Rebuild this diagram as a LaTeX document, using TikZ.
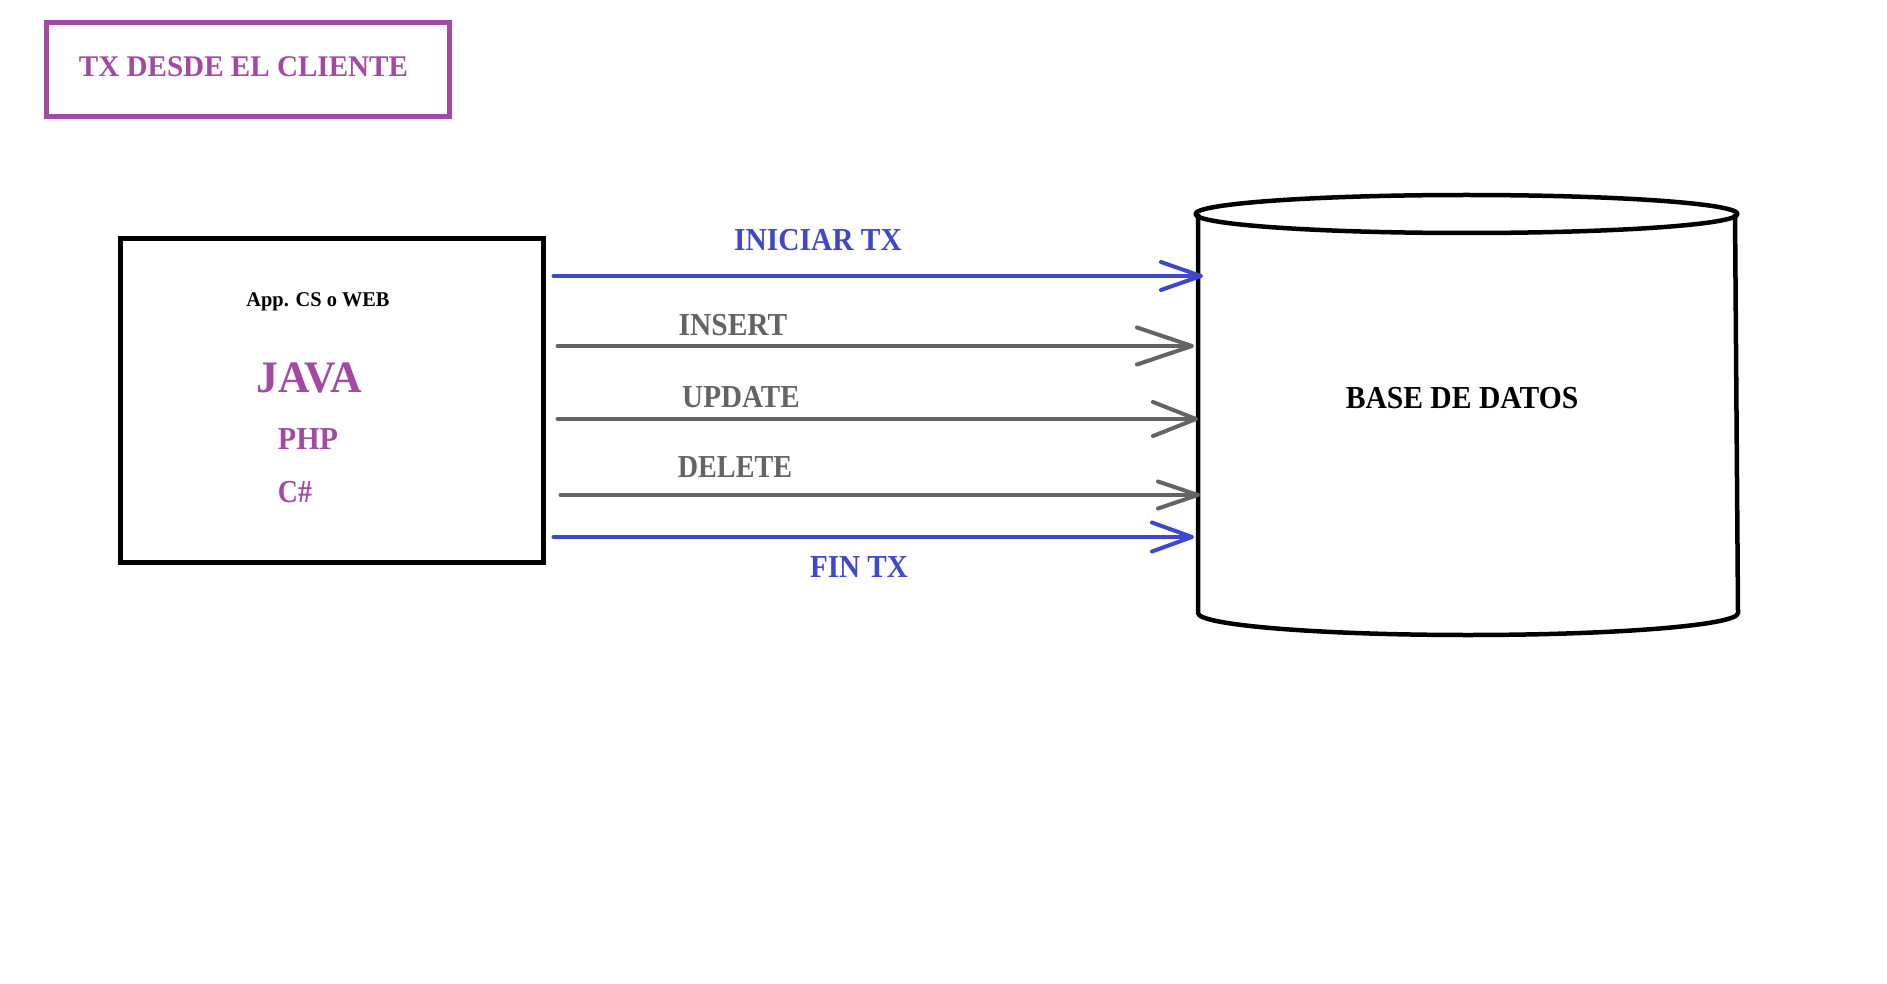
\documentclass[tikz,border=0pt]{standalone}
\usepackage{fontspec}
\setmainfont{Liberation Serif}
\usepackage{graphicx}
\usetikzlibrary{arrows.meta}
\definecolor{purpleC}{RGB}{163,73,164}
\definecolor{blueC}{RGB}{63,72,204}
\definecolor{grayC}{RGB}{100,100,100}
\newcommand\lbl[3]{{\fontsize{#1}{#1}\selectfont\bfseries\scalebox{#2}[1]{#3}}}
\tikzset{
  txt/.style={anchor=base, inner sep=0pt, outer sep=0pt},
  flow/.style={line width=4pt, line cap=round},
  blueflow/.style={flow, draw=blueC},
  grayflow/.style={flow, draw=grayC},
  cyl/.style={draw=black, line width=4.5pt, line join=round},
}
\begin{document}
\begin{tikzpicture}[x=1pt, y=-1pt]
\useasboundingbox[fill=white] (0,0) rectangle (1887,984);

% title
\node[draw=purpleC, line width=5pt, minimum width=403pt, minimum height=94pt, inner sep=0pt] (titlebox) at (247.5,69.5) {};
\node[txt, text=purpleC] (title) at (243.5,77) {\lbl{30}{0.97}{TX DESDE EL CLIENTE}};

% client box
\node[draw=black, line width=5pt, minimum width=423pt, minimum height=323pt, inner sep=0pt] (client) at (331.5,400.5) {};
\node[txt] (app) at (318,306) {\lbl{21}{0.97}{App. CS o WEB}};
\node[txt, text=purpleC] (java) at (309.5,392) {\lbl{45}{0.97}{JAVA}};
\node[txt, text=purpleC] (php) at (308,449) {\lbl{32}{0.94}{PHP}};
\node[txt, text=purpleC] (cs) at (295,502) {\lbl{32}{0.87}{C\#}};

% database
\node[minimum width=537pt, minimum height=399pt, inner sep=0pt, outer sep=0pt] (db) at (1466.5,413.5) {};
\draw[cyl] (db.north) ellipse [x radius=271pt, y radius=19pt];
\draw[cyl] (db.north west) -- (db.south west)
  arc[start angle=180, end angle=360, x radius=270pt, y radius=22pt] -- (db.north east);
\node[txt] (dbl) at (1462,408) {\lbl{32}{0.925}{BASE DE DATOS}};

% arrows
\draw[blueflow, -{Straight Barb[length=40pt,width=28pt,round]}, shorten <=8pt, shorten >=-5pt]
  (client.east |- 0,276) -- (db.west |- 0,276);
\draw[grayflow, -{Straight Barb[length=55pt,width=37pt,round]}, shorten <=12pt, shorten >=4pt]
  (client.east |- 0,346) -- (db.west |- 0,346);
\draw[grayflow, -{Straight Barb[length=43pt,width=34pt,round]}, shorten <=12pt]
  (client.east |- 0,419) -- (db.west |- 0,419);
\draw[grayflow, -{Straight Barb[length=40pt,width=27pt,round]}, shorten <=15pt, shorten >=-2pt]
  (client.east |- 0,495) -- (db.west |- 0,495);
\draw[blueflow, -{Straight Barb[length=40pt,width=29pt,round]}, shorten <=8pt, shorten >=4pt]
  (client.east |- 0,537) -- (db.west |- 0,537);

% arrow labels
\node[txt, text=blueC] (l1) at (818,251) {\lbl{32}{0.92}{INICIAR TX}};
\node[txt, text=grayC] (l2) at (733,335) {\lbl{32}{0.92}{INSERT}};
\node[txt, text=grayC] (l3) at (741,407) {\lbl{32}{0.91}{UPDATE}};
\node[txt, text=grayC] (l4) at (735,477) {\lbl{32}{0.88}{DELETE}};
\node[txt, text=blueC] (l5) at (859,577) {\lbl{32}{0.91}{FIN TX}};
\end{tikzpicture}
\end{document}
